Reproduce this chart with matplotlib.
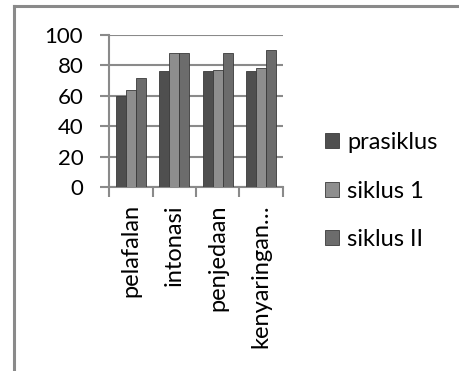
import numpy as np
import matplotlib.pyplot as plt
from matplotlib.lines import Line2D

categories = ["pelafalan", "intonasi", "penjedaan", "kenyaringan…"]
series_names = ["prasiklus", "siklus 1", "siklus II"]
prasiklus = [60, 76, 76, 76]
siklus_1 = [64, 88, 77, 78]
siklus_2 = [72, 88, 88, 90]
yticks = [0, 20, 40, 60, 80, 100]

colors = ["#4f4f4f", "#8e8e8e", "#6c6c6c"]
grid_col = "#8a8a8a"

plt.rcParams["font.family"] = ["Lato", "DejaVu Sans"]

fig = plt.figure(figsize=(4.59, 3.71), dpi=100)
ax = fig.add_axes([0.2375, 0.495, 0.379, 0.411])

# chart frame (only left and top edges show)
fig.add_artist(Line2D([14 / 459, 14 / 459], [0, 1 - 6 / 371], color=grid_col, lw=2.2, transform=fig.transFigure))
fig.add_artist(Line2D([14 / 459, 1], [1 - 6 / 371, 1 - 6 / 371], color=grid_col, lw=2.2, transform=fig.transFigure))

x = np.arange(len(categories))
w = 0.23
data = [prasiklus, siklus_1, siklus_2]
for k, vals in enumerate(data):
    ax.bar(x + (k - 1) * w, vals, width=w, color=colors[k], edgecolor="#3a3a3a",
           linewidth=0.6, zorder=3, label=series_names[k])

ax.set_xlim(-0.5, len(categories) - 0.5)
ax.set_ylim(0, 100)
ax.set_yticks(yticks)
ax.set_yticklabels([str(v) for v in yticks], fontsize=16)
ax.yaxis.grid(True, color=grid_col, lw=1.5, zorder=0)

ax.set_xticks(np.arange(len(categories) + 1) - 0.5)
ax.set_xticklabels([])
ax.set_xticks(x, minor=True)
ax.set_xticklabels(categories, minor=True, rotation=90, fontsize=17, va="top")
ax.tick_params(axis="x", which="minor", length=0, pad=12)
ax.tick_params(axis="x", which="major", length=7, width=1.5, color=grid_col, direction="out")
ax.tick_params(axis="y", length=6.5, width=1.5, color=grid_col, pad=12)

for s in ["top", "right"]:
    ax.spines[s].set_visible(False)
for s in ["left", "bottom"]:
    ax.spines[s].set_color(grid_col)
    ax.spines[s].set_linewidth(1.5)

leg = fig.legend(loc="center left", bbox_to_anchor=(325 / 459, 1 - 191 / 371), frameon=False,
                 fontsize=17, labelspacing=1.17, handlelength=0.6, handleheight=0.6,
                 handletextpad=0.34, borderaxespad=0, borderpad=0)

fig.savefig("out.png", dpi=100)
